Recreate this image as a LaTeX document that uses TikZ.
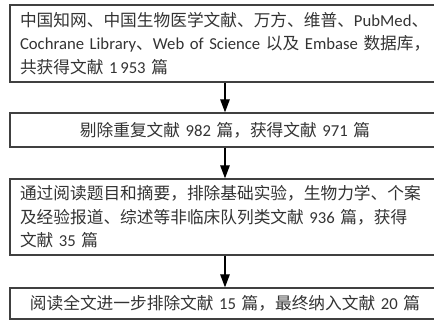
\documentclass[tikz,border=0pt]{standalone}
\usepackage{fontspec}
\setmainfont{Noto Sans CJK SC}
\newfontfamily\lat{Carlito}
\usetikzlibrary{arrows.meta}
\tikzset{
  flowbox/.style={draw=black!75, line width=1.3pt, text=black!80,
    inner xsep=10pt, inner ysep=0pt,
    font=\fontsize{16.7pt}{23.5pt}\selectfont},
  leftbox/.style={flowbox, text width=425pt, align=left},
  midbox/.style={flowbox, minimum width=430pt, text width=410pt, align=center},
  flowarrow/.style={line width=1.2pt, -{Triangle[width=9.5pt,length=13pt]}}
}
\begin{document}
\begin{tikzpicture}[x=1pt,y=-1pt]
\useasboundingbox (0,0) rectangle (434,322);
\node[leftbox, minimum height=77pt] (b1) at (232.5,43.5)
  {中国知网、中国生物医学文献、万方、维普、{\lat PubMed}、\\
   {\lat Cochrane Library}、{\lat Web of Science} 以及 {\lat Embase} 数据库，\\
   共获得文献 {\lat 1\,953} 篇};
\node[midbox, minimum height=34pt] (b2) at (225,130)
  {剔除重复文献 {\lat 982} 篇，获得文献 {\lat 971} 篇};
\node[leftbox, minimum height=76pt] (b3) at (232.5,217)
  {通过阅读题目和摘要，排除基础实验，生物力学、个案\\
   及经验报道、综述等非临床队列类文献 {\lat 936} 篇，获得\\
   文献 {\lat 35} 篇};
\node[midbox, minimum height=31pt] (b4) at (225,303.5)
  {阅读全文进一步排除文献 {\lat 15} 篇，最终纳入文献 {\lat 20} 篇};
\coordinate (a1) at (b1.south -| b2.south);
\coordinate (a3) at (b3.south -| b2.south);
\draw[flowarrow] (a1) -- (b2.north);
\draw[flowarrow] (b2.south) -- (b2.south |- b3.north);
\draw[flowarrow] (a3) -- (b4.north);
\end{tikzpicture}
\end{document}
